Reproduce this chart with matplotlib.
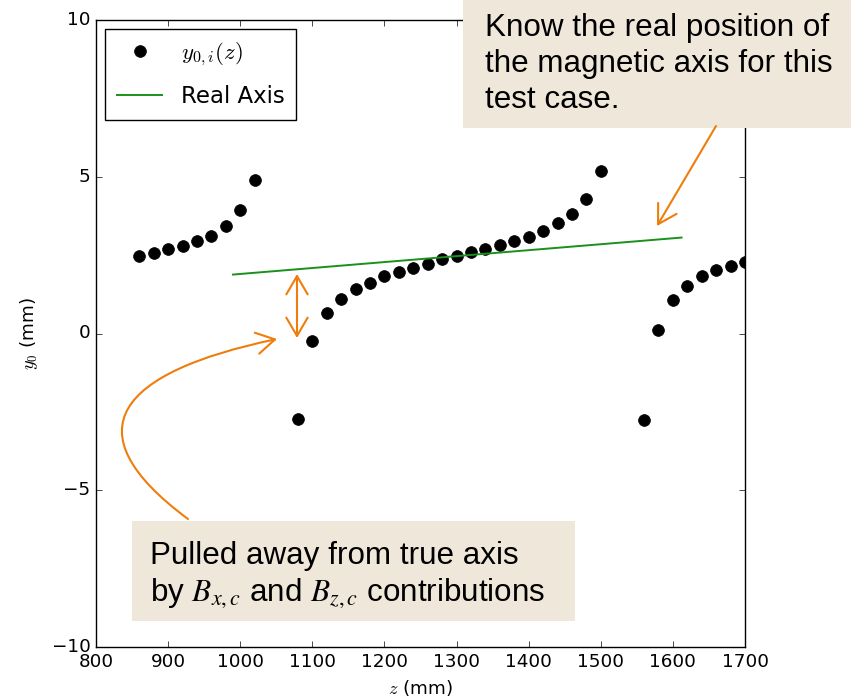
import matplotlib
matplotlib.use('Agg')
import matplotlib.pyplot as plt
from matplotlib.patches import Rectangle, FancyArrowPatch
from matplotlib.path import Path

plt.style.use('classic')
plt.rcParams['figure.facecolor'] = 'white'
plt.rcParams['savefig.facecolor'] = 'white'
plt.rcParams['font.size'] = 13.2

# fitted y0 of the axis at each z slice
z_pts = [860, 880, 900, 920, 940, 960, 980, 1000, 1020,
         1080, 1100, 1120, 1140, 1160, 1180, 1200, 1220, 1240, 1260, 1280,
         1300, 1320, 1340, 1360, 1380, 1400, 1420, 1440, 1460, 1480, 1500,
         1560, 1580, 1600, 1620, 1640, 1660, 1680, 1700]
y_pts = [2.48, 2.58, 2.68, 2.80, 2.96, 3.12, 3.44, 3.95, 4.90,
         -2.72, -0.25, 0.64, 1.11, 1.42, 1.62, 1.82, 1.97, 2.10, 2.23, 2.37,
         2.48, 2.59, 2.71, 2.83, 2.94, 3.09, 3.28, 3.52, 3.82, 4.28, 5.17,
         -2.77, 0.10, 1.06, 1.53, 1.82, 2.01, 2.16, 2.28]

# true magnetic axis for the test case
z_axis = [990, 1612]
y_axis = [1.88, 3.06]

W, H = 851, 698
box_col = '#f0e7db'
arrow_col = '#ef7d0c'


def fx(x, y):
    return (x / W, 1 - y / H)


fig = plt.figure(figsize=(W / 100, H / 100), dpi=100)
ax = fig.add_axes([96 / W, 1 - 647 / H, (745 - 96) / W, (647 - 20) / H])

ax.plot(z_pts, y_pts, 'ko', ms=8.5, label=r'$y_{0,i}(z)$')
ax.plot(z_axis, y_axis, color='#1a911a', lw=1.4, label='Real Axis')
ax.set_xlim(800, 1700)
ax.set_ylim(-10, 10)
ax.set_xticks(range(800, 1701, 100))
ax.set_yticks([-10, -5, 0, 5, 10])
ax.set_xlabel(r'$z$ (mm)')
ax.set_ylabel(r'$y_0$ (mm)', labelpad=8)
ax.legend(loc='upper left', numpoints=1, fontsize=16.5, borderaxespad=0.4,
          handlelength=2.0, labelspacing=0.75, borderpad=0.5)

# note boxes
fig.add_artist(Rectangle(fx(463, 128), (W - 463) / W, 128 / H,
                         transform=fig.transFigure, facecolor=box_col,
                         edgecolor='none', zorder=3))
fig.add_artist(Rectangle(fx(132, 621), (575 - 132) / W, (621 - 521) / H,
                         transform=fig.transFigure, facecolor=box_col,
                         edgecolor='none', zorder=3))
fig.text(*fx(485, 13), 'Know the real position of\nthe magnetic axis for this\ntest case.',
         family='Liberation Sans', fontsize=22.6, va='top', ha='left',
         linespacing=1.25, zorder=4)
fig.text(*fx(150, 541), 'Pulled away from true axis\nby $B_{x,c}$ and $B_{z,c}$ contributions',
         family='Liberation Sans', fontsize=22.6, va='top', ha='left',
         linespacing=1.2, math_fontfamily='stix', zorder=4)

# arrows
akw = dict(transform=fig.transFigure, color=arrow_col, lw=1.5,
           shrinkA=0, shrinkB=0, mutation_scale=22, zorder=5)
fig.add_artist(FancyArrowPatch(fx(716, 126), fx(657, 226),
                               arrowstyle='->,head_length=0.6,head_width=0.35', **akw))
fig.add_artist(FancyArrowPatch(fx(297, 274), fx(297, 338),
                               arrowstyle='<->,head_length=0.6,head_width=0.35', **akw))
curve = Path([fx(188, 519), fx(68, 430), fx(120, 372), fx(277, 339)],
             [Path.MOVETO, Path.CURVE4, Path.CURVE4, Path.CURVE4])
fig.add_artist(FancyArrowPatch(path=curve,
                               arrowstyle='->,head_length=0.6,head_width=0.35', **akw))

fig.savefig('out.png', dpi=100)
